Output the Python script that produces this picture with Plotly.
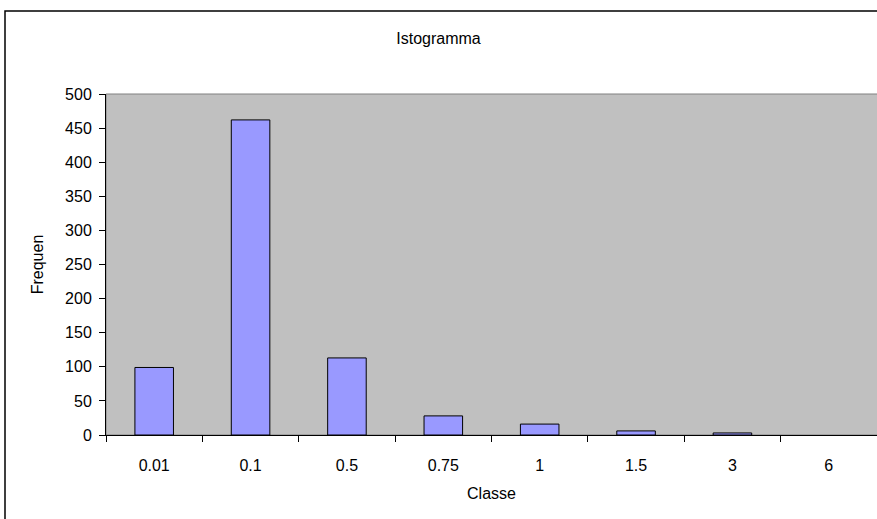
import plotly.graph_objects as go

categories = ["0.01", "0.1", "0.5", "0.75", "1", "1.5", "3", "6"]
frequencies = [99, 462, 113, 28, 16, 6, 3, 0]
y_ticks = [0, 50, 100, 150, 200, 250, 300, 350, 400, 450, 500]

font = "Liberation Sans, Arial, sans-serif"
fs = 16

fig = go.Figure(go.Bar(
    x=categories, y=frequencies,
    marker=dict(color="#9999FF",
                line=dict(color="black", width=[1 if v > 0 else 0 for v in frequencies])),
))

fig.update_layout(
    width=877, height=519,
    margin=dict(l=106, r=0, t=94, b=84),
    paper_bgcolor="white", plot_bgcolor="#C0C0C0",
    bargap=0.6, showlegend=False,
    font=dict(family=font, size=fs, color="black"),
    title=dict(text="Istogramma", x=0.5, xanchor="center", y=1 - 38 / 519, yanchor="middle",
               font=dict(family=font, size=fs, color="black")),
    xaxis=dict(type="category", tickson="boundaries", ticks="outside", ticklen=6, tickcolor="black",
               showline=True, linecolor="black", linewidth=1, showgrid=False,
               ticklabelstandoff=16, tickfont=dict(size=fs),
               title=dict(text="Classe", standoff=14, font=dict(size=fs))),
    yaxis=dict(range=[0, 500], tickvals=y_ticks, ticks="outside", ticklen=6, tickcolor="black",
               showline=True, linecolor="black", linewidth=1, showgrid=False, zeroline=False,
               ticklabelstandoff=4, tickfont=dict(size=fs),
               title=dict(text="Frequen", standoff=17, font=dict(size=fs))),
    shapes=[
        dict(type="rect", xref="paper", yref="paper", x0=0, x1=1.01, y0=0, y1=1,
             line=dict(color="#808080", width=1), layer="below"),
        dict(type="rect", xref="paper", yref="paper", x0=(5 - 106) / 771, x1=1.2,
             y0=-0.5, y1=(435 - 11) / 341, line=dict(color="black", width=1.5)),
    ],
)

fig.write_html("out.html")
